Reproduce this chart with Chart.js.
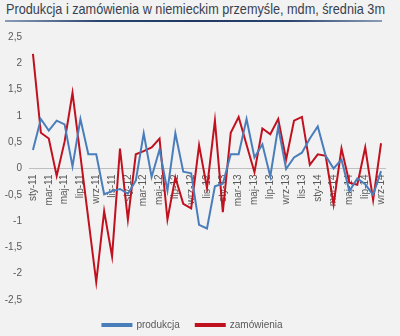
<!DOCTYPE html>
<html>
<head>
<meta charset="utf-8">
<script src="https://cdn.jsdelivr.net/npm/chart.js@4.4.1/dist/chart.umd.min.js"></script>
<style>
  body { margin: 0; background: #f2f2f2; }
  #wrap { position: relative; width: 400px; height: 336px; background: #f2f2f2; }
  #title {
    position: absolute; left: 6px; top: 0; line-height: 18px; white-space: nowrap;
    font-family: "Liberation Sans", Arial, sans-serif;
    font-size: 15px; color: #37414f;
    transform: scaleX(0.845); transform-origin: 0 0;
  }
  #rule {
    position: absolute; left: 5px; top: 20px; width: 377px; height: 2px;
    background: linear-gradient(90deg, #8a9cb6 0%, #2a4470 25%, #1f3864 50%, #2a4470 75%, #8a9cb6 100%);
  }
  canvas { position: absolute; left: 0; top: 0; }
</style>
</head>
<body>
<div id="wrap">
  <div id="title">Produkcja i zamówienia w niemieckim przemyśle, mdm, średnia 3m</div>
  <div id="rule"></div>
  <canvas id="chart" width="400" height="336"></canvas>
</div>
<script>
const MONTHS = ["sty", "lut", "mar", "kwi", "maj", "cze", "lip", "sie", "wrz", "paź", "lis", "gru"];
const YEARS = ["11", "12", "13", "14"];
const N_POINTS = 45; // sty-11 .. wrz-14

const labels = [];
for (let i = 0; i < N_POINTS; i++) {
  labels.push(MONTHS[i % 12] + "-" + YEARS[Math.floor(i / 12)]);
}

// m/m change, 3-month average
const produkcja = [
  0.35, 0.94, 0.72, 0.91, 0.84, 0.04, 0.94, 0.27, 0.27, -0.49, -0.43, -0.39,
  -0.48, -0.23, 0.67, -0.16, 0.36, -0.42, 0.67, -0.06, -0.09, -1.07, -1.14, -0.34,
  -0.29, 0.27, 0.27, 0.94, 0.21, 0.46, -0.15, 0.79, -0.01, 0.21, 0.30, 0.57,
  0.80, 0.24, 0.00, 0.17, -0.43, -0.19, -0.30, -0.50, -0.05
];
const zamowienia = [
  2.18, 0.68, 0.57, -0.14, 0.51, 1.44, 0.24, -0.96, -2.16, -0.81, -1.67, 0.38,
  -0.97, 0.27, 0.33, 0.40, 0.57, -0.97, -0.17, -0.67, -0.76, 0.44, -0.37, 0.91,
  -0.83, 0.68, 0.98, 0.45, -0.07, 0.76, 0.65, 0.94, 0.17, 0.91, 0.98, 0.07,
  0.27, 0.24, -0.68, 0.38, -0.27, -0.31, 0.40, -0.60, 0.48
];

const Y_MIN = -2.5, Y_MAX = 2.5, Y_STEP = 0.5;

const BLUE = "#4a7ebb";
const RED = "#c0111f";
const TEXT = "#595959";
const FONT = "'Liberation Sans', Arial, sans-serif";

// push the legend a few px further below the plot
const legendShift = {
  id: "legendShift",
  afterLayout(chart) {
    const lg = chart.legend;
    if (!lg) return;
    lg.top += 4;
    lg.bottom += 4;
  }
};

const ctx = document.getElementById("chart").getContext("2d");
new Chart(ctx, {
  type: "line",
  data: {
    labels,
    datasets: [
      { label: "produkcja", data: produkcja, borderColor: BLUE, backgroundColor: BLUE,
        borderWidth: 2, pointRadius: 0, tension: 0 },
      { label: "zamówienia", data: zamowienia, borderColor: RED, backgroundColor: RED,
        borderWidth: 2, pointRadius: 0, tension: 0 }
    ]
  },
  options: {
    responsive: false,
    animation: false,
    layout: { padding: { top: 37, right: 15, bottom: 0, left: 0 } },
    plugins: {
      tooltip: { enabled: false },
      legend: {
        position: "bottom",
        labels: {
          boxWidth: 29, boxHeight: 2, padding: 16,
          color: TEXT, font: { family: FONT, size: 10 }
        }
      }
    },
    scales: {
      x: {
        position: { y: 0 },
        offset: true,
        grid: { display: false, drawTicks: false },
        border: { display: true, color: "#bfbfbf", width: 1 },
        ticks: {
          autoSkip: false, minRotation: 90, maxRotation: 90, padding: 6,
          color: TEXT, font: { family: FONT, size: 10 },
          callback: (v, i) => (i % 2 === 0 ? labels[i] : "")
        }
      },
      y: {
        min: Y_MIN, max: Y_MAX,
        grid: { display: false, drawTicks: false },
        border: { display: false },
        afterFit: s => { s.width = 29; },
        ticks: {
          stepSize: Y_STEP, padding: 7,
          color: TEXT, font: { family: FONT, size: 10 },
          callback: v => String(v).replace(".", ",")
        }
      }
    }
  },
  plugins: [legendShift]
});
</script>
</body>
</html>
